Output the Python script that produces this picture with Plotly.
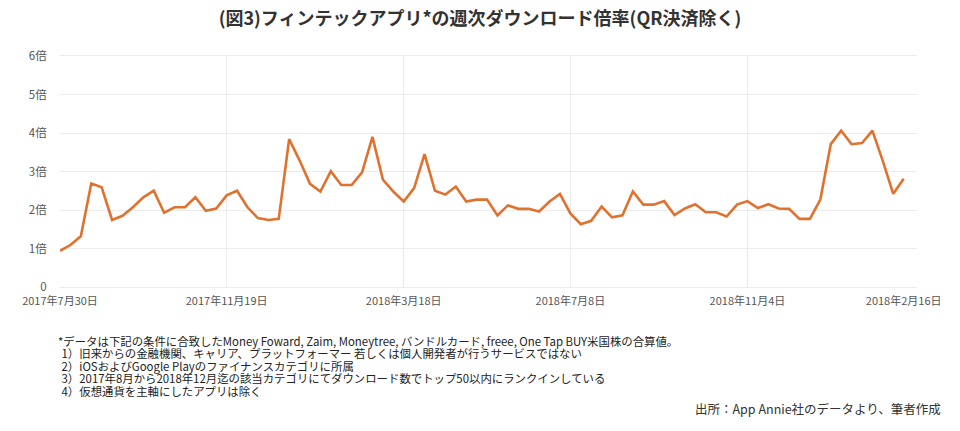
import pandas as pd
import plotly.graph_objects as go

start_date = "2017-07-30"
ratio = [
    0.94, 1.09, 1.32, 2.69, 2.59, 1.74, 1.85, 2.07, 2.33, 2.50,
    1.93, 2.07, 2.07, 2.33, 1.98, 2.04, 2.38, 2.50, 2.07, 1.79,
    1.74, 1.77, 3.84, 3.29, 2.68, 2.48, 3.01, 2.65, 2.65, 2.98,
    3.90, 2.79, 2.48, 2.22, 2.57, 3.45, 2.50, 2.40, 2.61, 2.22,
    2.27, 2.27, 1.86, 2.12, 2.03, 2.03, 1.96, 2.22, 2.42, 1.91,
    1.63, 1.72, 2.09, 1.81, 1.86, 2.48, 2.14, 2.14, 2.23, 1.87,
    2.04, 2.15, 1.94, 1.94, 1.83, 2.14, 2.23, 2.05, 2.15, 2.04,
    2.03, 1.77, 1.77, 2.27, 3.71, 4.06, 3.71, 3.74, 4.06, 3.27,
    2.42, 2.81,
]
dates = pd.date_range(start_date, periods=len(ratio), freq="7D")

grid_dates = ["2017-07-30", "2017-11-19", "2018-03-18", "2018-07-08", "2018-11-04"]
label_dates = grid_dates + ["2019-02-17"]
label_text = ["2017年7月30日", "2017年11月19日", "2018年3月18日", "2018年7月8日",
              "2018年11月4日", "2018年2月16日"]
y_vals = [0, 1, 2, 3, 4, 5, 6]
y_text = ["0", "1倍", "2倍", "3倍", "4倍", "5倍", "6倍"]

title = "(図3)フィンテックアプリ*の週次ダウンロード倍率(QR決済除く)"
notes = [
    "*データは下記の条件に合致したMoney Foward, Zaim, Moneytree, バンドルカード, freee, One Tap BUY米国株の合算値。",
    " 1）旧来からの金融機関、キャリア、プラットフォーマー 若しくは個人開発者が行うサービスではない",
    " 2）iOSおよびGoogle Playのファイナンスカテゴリに所属",
    " 3）2017年8月から2018年12月迄の該当カテゴリにてダウンロード数でトップ50以内にランクインしている",
    " 4）仮想通貨を主軸にしたアプリは除く",
]
source = "出所：App Annie社のデータより、筆者作成"

FONT = "Noto Sans CJK JP"
x_range = ["2017-07-30", "2019-02-25T23:00"]
W, H, L, R, T, B = 960, 431, 60, 43, 56, 144
PH = H - T - B
PW = W - L - R

fig = go.Figure()
fig.add_trace(go.Scatter(x=dates, y=ratio, mode="lines",
                         line=dict(color="#e0722f", width=2.6),
                         hoverinfo="x+y", showlegend=False))
fig.add_trace(go.Scatter(x=dates, y=ratio, mode="lines", xaxis="x2",
                         line=dict(color="rgba(0,0,0,0)", width=0),
                         hoverinfo="skip", showlegend=False))

fig.update_layout(
    width=W, height=H,
    margin=dict(l=L, r=R, t=T, b=B),
    paper_bgcolor="white", plot_bgcolor="white",
    font=dict(family=FONT, color="#555", size=11),
    title=dict(text="<b>" + title + "</b>", x=0.5, xanchor="center",
               y=1 - 19 / H, yanchor="middle",
               font=dict(family=FONT, size=18, color="#333")),
    xaxis=dict(type="date", range=x_range, tickvals=label_dates, ticktext=label_text,
               showgrid=False, zeroline=False, showline=True, mirror=True,
               linecolor="#ececec", linewidth=1, ticks="outside", ticklen=4,
               tickcolor="rgba(0,0,0,0)", automargin=False,
               tickfont=dict(size=11, color="#555")),
    xaxis2=dict(type="date", overlaying="x", matches="x", range=x_range,
                tickvals=grid_dates, showticklabels=False, showgrid=True,
                gridcolor="#ececec", gridwidth=1, zeroline=False, ticks="",
                automargin=False),
    yaxis=dict(range=[0, 6], tickvals=y_vals, ticktext=y_text,
               showgrid=True, gridcolor="#ececec", gridwidth=1, zeroline=False,
               showline=False, ticks="outside", ticklen=10, automargin=False,
               tickcolor="rgba(0,0,0,0)", tickfont=dict(size=11.5, color="#555")),
)

note_x = [56, 57, 57, 57, 57]
note_y0 = 341
for i, t in enumerate(notes):
    fig.add_annotation(text=t, xref="paper", yref="paper",
                       x=(note_x[i] - L) / PW, y=1 - (note_y0 + i * 12.4 - T) / PH,
                       xanchor="left", yanchor="middle", showarrow=False,
                       font=dict(family=FONT, size=11.4, color="#222"))
fig.add_annotation(text=source, xref="paper", yref="paper",
                   x=(943 - L) / PW, y=1 - (408 - T) / PH,
                   xanchor="right", yanchor="middle", showarrow=False,
                   font=dict(family=FONT, size=12.5, color="#333"))

fig.write_html("out.html", config={"displayModeBar": False},
               post_script="document.body.style.margin='0';document.body.style.padding='0';")
